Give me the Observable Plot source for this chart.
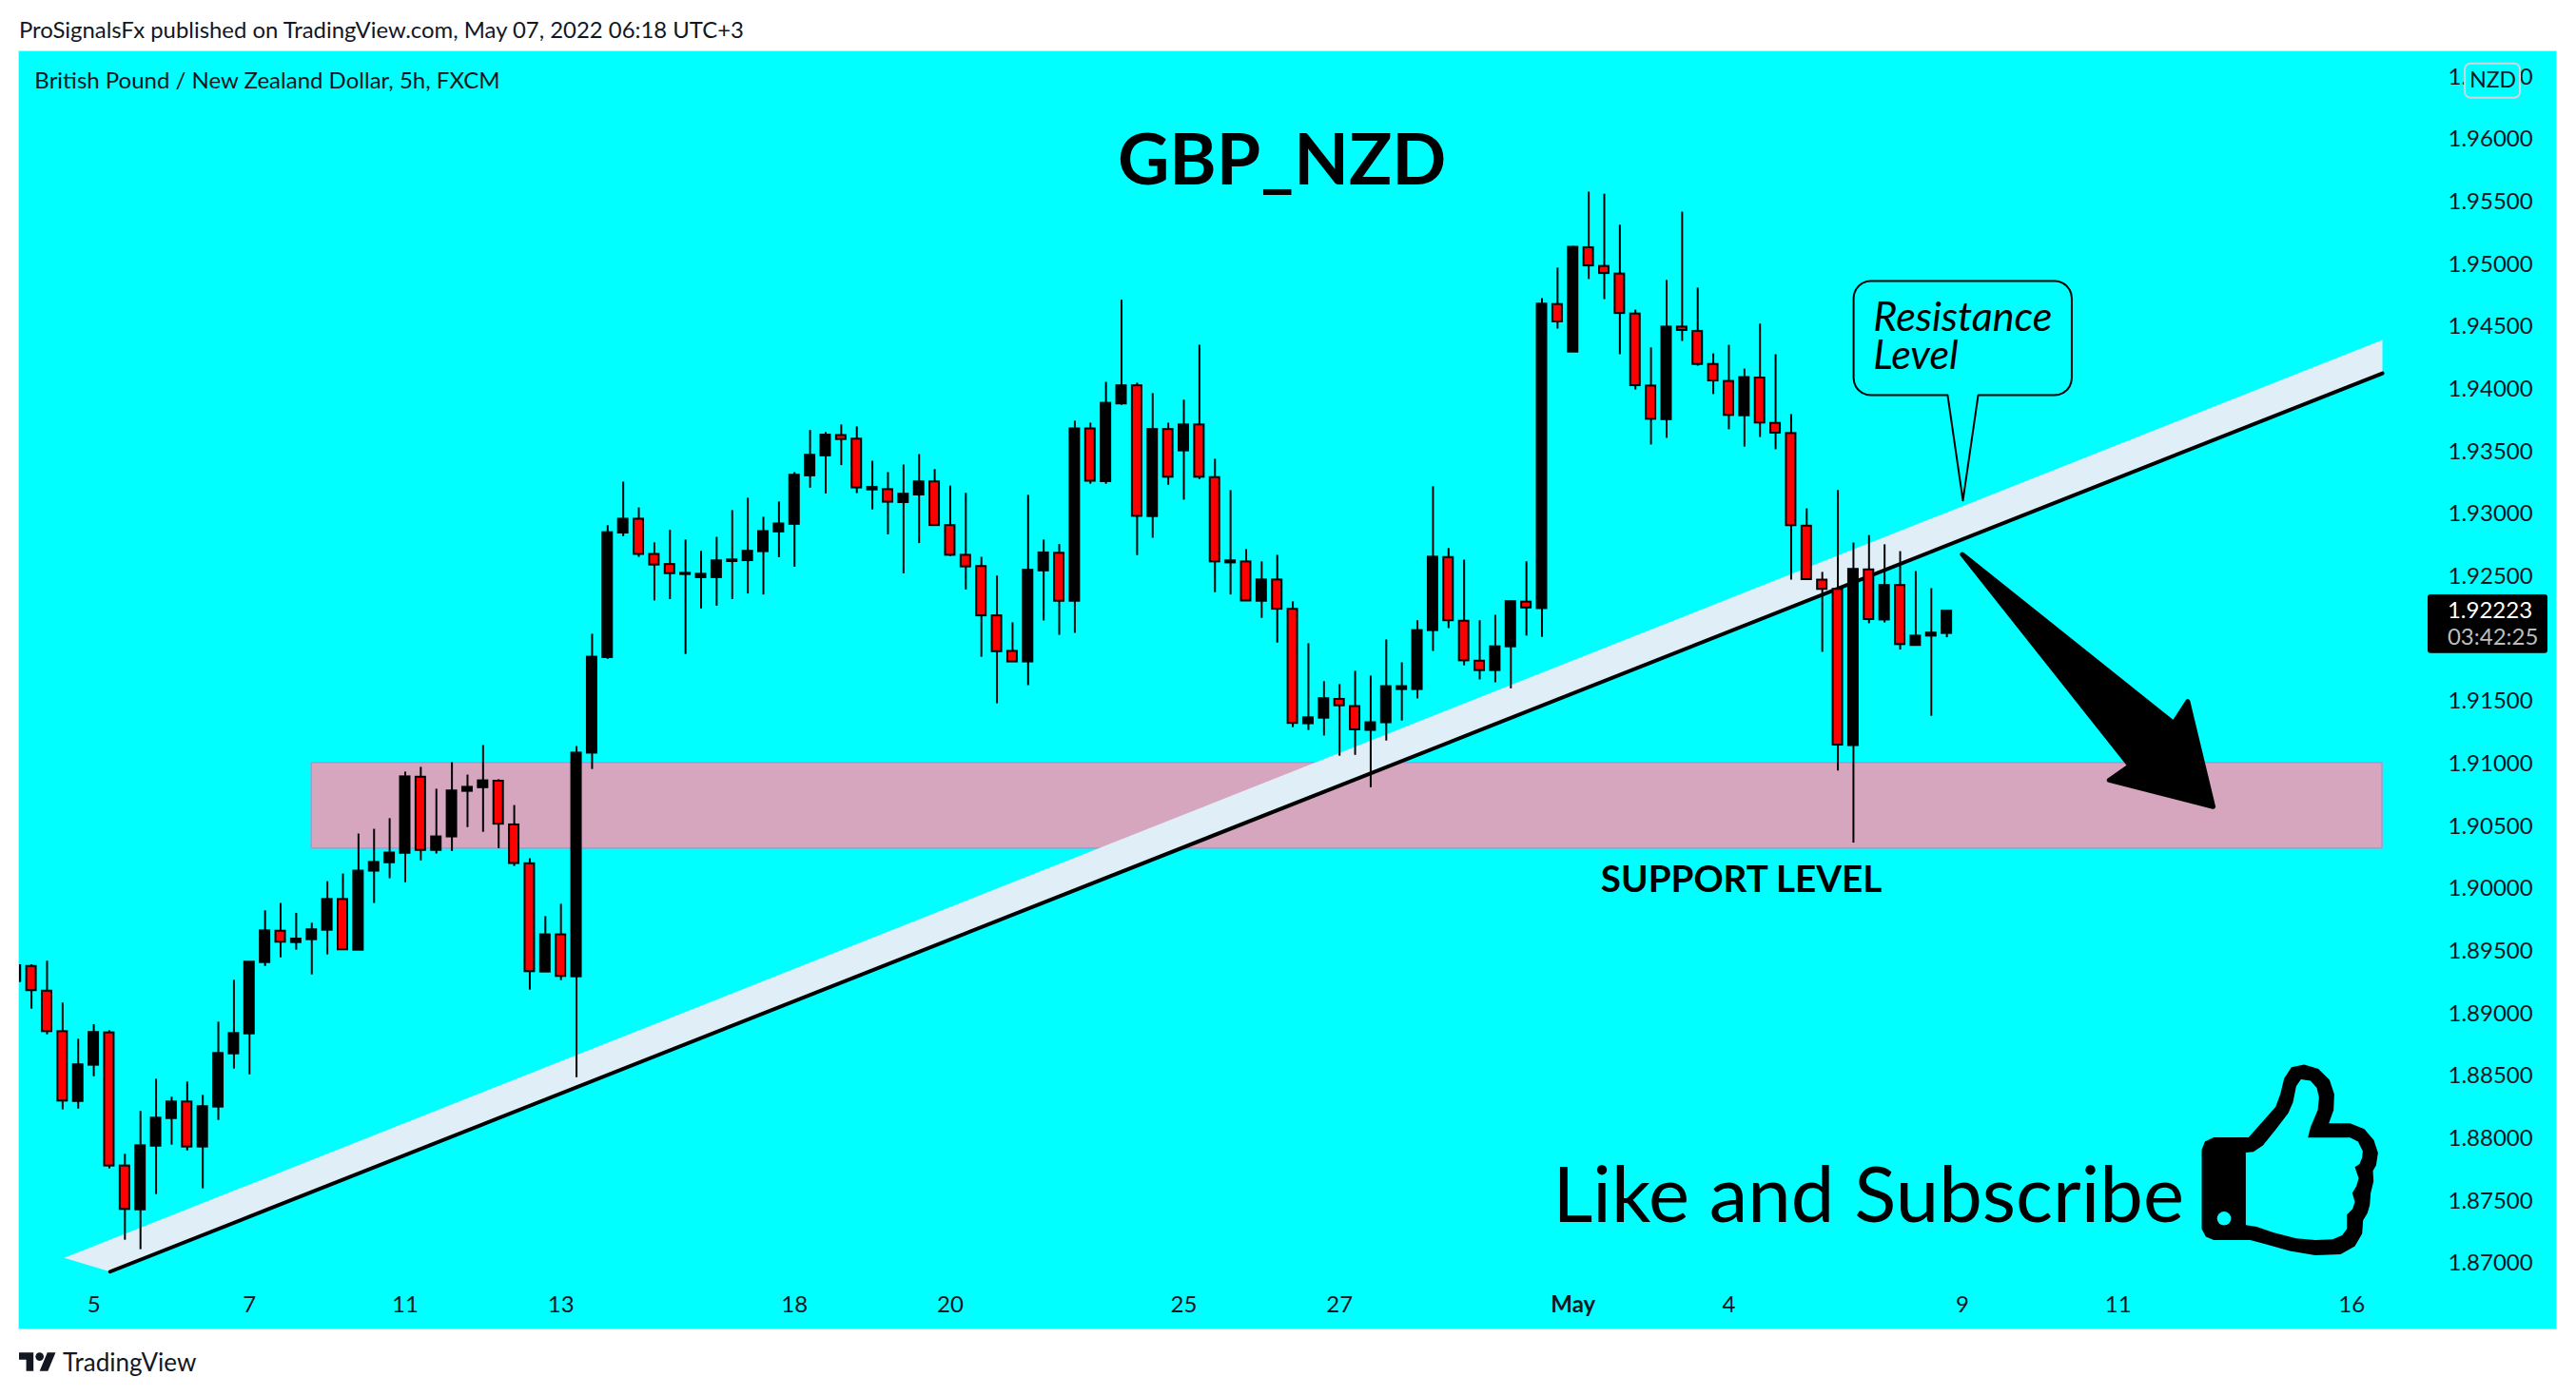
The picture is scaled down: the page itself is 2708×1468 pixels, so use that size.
<!DOCTYPE html>
<html><head><meta charset="utf-8">
<script src="https://cdn.jsdelivr.net/npm/d3@7"></script>
<script src="https://cdn.jsdelivr.net/npm/@observablehq/plot@0.6"></script>
<style>
html,body{margin:0;padding:0;background:#fff}
#page{position:relative;width:2708px;height:1468px;overflow:hidden;font-family:Lato,sans-serif;color:#131722}
.t{position:absolute;white-space:nowrap;line-height:1}
#panel{position:absolute;left:20px;top:54px;width:2667px;height:1343px;box-shadow:0 0 0 1px #e0e3eb}
#panel svg{display:block;overflow:visible}
</style></head><body>
<div id="page">
<div class="t" id="pub" style="left:20px;top:19px;font-size:23.9px">ProSignalsFx published on TradingView.com, May 07, 2022 06:18 UTC+3</div>
<div id="panel"></div>
<svg style="position:absolute;left:20px;top:1422px" width="39" height="20" viewBox="0 4 36 18"><path fill="#131722" d="M14 22H7V11H0V4h14v18zM28 22h-8l7.5-18h8L28 22z"/><circle fill="#131722" cx="20" cy="8" r="4"/></svg>
<div class="t" style="left:66px;top:1419px;font-size:26px">TradingView</div>
</div>
<script>
const opens=[1.89257,1.89378,1.89180,1.88856,1.88297,1.88587,1.88846,1.87780,1.87429,1.87939,1.88160,1.88293,1.87932,1.88252,1.88678,1.88838,1.89409,1.89660,1.89569,1.89592,1.89668,1.89914,1.89508,1.90141,1.90208,1.90284,1.90893,1.90307,1.90415,1.90780,1.90809,1.90861,1.90511,1.90200,1.89333,1.89631,1.89295,1.91086,1.91851,1.92848,1.92959,1.92677,1.92596,1.92516,1.92491,1.92491,1.92620,1.92627,1.92699,1.92857,1.92918,1.93306,1.93466,1.93629,1.93600,1.93193,1.93196,1.93092,1.93153,1.93258,1.92908,1.92670,1.92580,1.92185,1.91901,1.91816,1.92545,1.92686,1.92302,1.93682,1.93260,1.93882,1.94027,1.92980,1.93677,1.93506,1.93714,1.93292,1.92609,1.92617,1.92302,1.92472,1.92238,1.91321,1.91366,1.91516,1.91459,1.91268,1.91329,1.91595,1.91595,1.92067,1.92652,1.92142,1.91822,1.91747,1.91937,1.92295,1.92243,1.94678,1.94297,1.95133,1.94983,1.94922,1.94602,1.94025,1.93756,1.94497,1.94463,1.94198,1.94062,1.93787,1.94089,1.93726,1.93645,1.92903,1.92471,1.92397,1.91146,1.92553,1.92152,1.92428,1.91948,1.92023,1.92044];
const closes=[1.89384,1.89184,1.88856,1.88300,1.88590,1.88849,1.87780,1.87432,1.87942,1.88163,1.88293,1.87932,1.88255,1.88681,1.88841,1.89412,1.89663,1.89572,1.89597,1.89671,1.89914,1.89511,1.90141,1.90211,1.90286,1.90896,1.90307,1.90415,1.90783,1.90812,1.90864,1.90517,1.90202,1.89336,1.89631,1.89298,1.91086,1.91854,1.92851,1.92959,1.92677,1.92592,1.92523,1.92526,1.92518,1.92625,1.92633,1.92702,1.92860,1.92921,1.93311,1.93471,1.93632,1.93597,1.93209,1.93214,1.93095,1.93159,1.93258,1.92908,1.92670,1.92577,1.92185,1.91898,1.91816,1.92550,1.92689,1.92302,1.93682,1.93263,1.93887,1.94027,1.92982,1.93677,1.93295,1.93714,1.93295,1.92617,1.92625,1.92304,1.92472,1.92238,1.91324,1.91369,1.91522,1.91465,1.91272,1.91329,1.91618,1.91618,1.92067,1.92655,1.92146,1.91825,1.91747,1.91937,1.92299,1.92248,1.94681,1.94539,1.95136,1.94987,1.94926,1.94606,1.94028,1.93759,1.94497,1.94470,1.94198,1.94066,1.93790,1.94093,1.93729,1.93648,1.92907,1.92475,1.92397,1.91150,1.92557,1.92155,1.92428,1.91955,1.92023,1.92047,1.92223];
const highs=[1.89384,1.89391,1.89420,1.89085,1.88795,1.88912,1.88864,1.87874,1.88217,1.88475,1.88331,1.88453,1.88346,1.88932,1.89267,1.89412,1.89823,1.89882,1.89803,1.89724,1.90057,1.90118,1.90438,1.90476,1.90561,1.90934,1.90972,1.90797,1.91010,1.90910,1.91147,1.90873,1.90666,1.90240,1.89777,1.89876,1.91138,1.92038,1.92907,1.93256,1.93049,1.92770,1.92870,1.92792,1.92702,1.92814,1.93028,1.93127,1.92975,1.93097,1.93332,1.93669,1.93653,1.93714,1.93698,1.93423,1.93332,1.93393,1.93476,1.93356,1.93225,1.93166,1.92654,1.92504,1.92130,1.93150,1.92792,1.92756,1.93744,1.93728,1.94055,1.94713,1.94048,1.93965,1.93728,1.93912,1.94352,1.93439,1.93188,1.92716,1.92617,1.92670,1.92297,1.91962,1.91658,1.91635,1.91741,1.91703,1.91992,1.91809,1.92146,1.93219,1.92724,1.92631,1.92146,1.92190,1.92306,1.92618,1.94725,1.94970,1.95143,1.95578,1.95561,1.95313,1.94633,1.94331,1.94871,1.95418,1.94810,1.94283,1.94351,1.94161,1.94521,1.94276,1.93797,1.93042,1.92533,1.93189,1.92768,1.92828,1.92754,1.92699,1.92540,1.92403,1.92227];
const lows=[1.89257,1.89036,1.88830,1.88229,1.88236,1.88495,1.87757,1.87186,1.87110,1.87551,1.87947,1.87901,1.87597,1.88145,1.88556,1.88510,1.89378,1.89447,1.89508,1.89310,1.89470,1.89511,1.89508,1.89882,1.90080,1.90048,1.90223,1.90278,1.90299,1.90490,1.90452,1.90321,1.90179,1.89188,1.89333,1.89264,1.88488,1.90955,1.91837,1.92819,1.92653,1.92304,1.92315,1.91876,1.92240,1.92262,1.92315,1.92360,1.92352,1.92651,1.92574,1.93207,1.93161,1.93388,1.93164,1.93033,1.92833,1.92521,1.92764,1.92908,1.92660,1.92392,1.91853,1.91481,1.91816,1.91626,1.92144,1.92029,1.92045,1.93239,1.93239,1.93871,1.92667,1.92806,1.93230,1.93111,1.93276,1.92371,1.92352,1.92304,1.92165,1.91967,1.91290,1.91267,1.91223,1.91061,1.91068,1.90809,1.91183,1.91343,1.91520,1.91900,1.92083,1.91785,1.91672,1.91649,1.91601,1.92023,1.92013,1.94481,1.94297,1.94878,1.94717,1.94276,1.93994,1.93553,1.93606,1.94382,1.94184,1.93957,1.93675,1.93536,1.93613,1.93515,1.92471,1.92475,1.91893,1.90942,1.90366,1.92122,1.92128,1.91911,1.91944,1.91381,1.92010];

const xTicks=[5,15,25,35,50,60,75,85,110,125,135,150];
const xLabels=["5","7","11","13","18","20","25","27","4","9","11","16"];
const xMayTick=[100];
const yTicks=[1.87,1.875,1.88,1.885,1.89,1.895,1.9,1.905,1.91,1.915,1.925,1.93,1.935,1.94,1.945,1.95,1.955,1.96,1.965];

const lastPrice="1.92223", countdown="03:42:25";
const bandPts=[[3.10,1.87044],[151.97,1.94394],[151.97,1.94127],[6.05,1.86934]];
const linePts=[[6.05,1.86934],[151.97,1.94127]];
const arrowPts=[[124.99,1.92677],[138.56,1.91325],[139.47,1.91499],[141.10,1.90657],[134.42,1.90869],[135.75,1.90985]];
const thumbOuter=[[80,256],[190,256],[275,160],[290,120],[302,70],[325,35],[365,27],[410,40],[445,75],[460,120],[458,170],[443,212],[510,212],[555,230],[585,265],[598,305],[592,345],[582,362],[584,395],[575,432],[572,470],[565,495],[551,518],[548,560],[525,600],[480,625],[400,628],[320,615],[240,592],[195,580],[80,580],[55,570],[42,545],[42,295],[52,270]];
const thumbInner=[[181,304],[205,302],[235,282],[275,232],[315,180],[330,145],[340,95],[355,73],[385,78],[405,100],[412,130],[408,170],[385,225],[377,257],[510,257],[535,270],[550,300],[548,320],[540,340],[525,350],[537,385],[530,410],[517,432],[525,460],[518,482],[500,500],[500,545],[485,565],[455,578],[400,580],[340,575],[270,557],[215,538],[181,533]];

const FONT='Lato,sans-serif', CYAN="#00ffff";
const bars=opens.map((o,i)=>({i,open:o,close:closes[i],high:highs[i],low:lows[i]}));
const halfBody=0.305;
// thumb outline traced in its own small grid, placed in bar/price units
const thumbAt=([u,v])=>[139.51+u*0.02036,1.8866-v*2.538e-5];
const thumb0=thumbOuter.map(thumbAt), thumb1=thumbInner.map(thumbAt);
// callout outline with rounded corners, in bar/price units
function calloutPath(){
  const L=118.01,R=132.02,T=1.94866,B=1.93952,rx=1.1,ry=0.00137,pts=[];
  const arc=(cx,cy,s,e)=>{for(let k=0;k<=6;k++){const a=(s+(e-s)*k/6)*Math.PI/180;pts.push([cx+rx*Math.cos(a),cy+ry*Math.sin(a)]);}};
  arc(L+rx,T-ry,180,90);
  arc(R-rx,T-ry,90,0);
  arc(R-rx,B+ry,0,-90);
  pts.push([126.01,B],[125.03,1.93109],[124.05,B]);
  arc(L+rx,B+ry,-90,-180);
  pts.push(pts[0]);
  return pts;
}
const px=d=>d[0], py=d=>d[1];
const chart=Plot.plot({
  width:2667,height:1343,
  marginLeft:0,marginRight:127,marginTop:0,marginBottom:47,
  style:{background:CYAN,fontFamily:FONT,overflow:"visible"},
  x:{domain:[0.2303,155.39],axis:null},
  y:{domain:[1.86833,1.96701],axis:null},
  color:{type:"identity"},
  marks:[
    Plot.axisY({anchor:"right",ticks:yTicks,tickSize:0,tickPadding:13,tickFormat:d3.format(".5f"),label:null,fontSize:24,fill:"#131722"}),
    Plot.axisX({anchor:"bottom",ticks:xTicks,tickSize:0,tickPadding:12,tickFormat:d=>xLabels[xTicks.indexOf(d)],label:null,fontSize:24,fill:"#131722"}),
    Plot.axisX({anchor:"bottom",ticks:xMayTick,tickSize:0,tickPadding:12,tickFormat:()=>"May",label:null,fontSize:24,fontWeight:"bold",fill:"#131722"}),
    Plot.rect([{a:19,b:151.97,t:1.91007,d:1.90322}],{x1:"a",x2:"b",y1:"d",y2:"t",fill:"#d6a6bf",stroke:"#b890cc",strokeWidth:1.5}),
    Plot.line(bandPts,{x:px,y:py,fill:"#e0eef8",stroke:"none",curve:"linear-closed"}),
    Plot.line(linePts,{x:px,y:py,stroke:"#000",strokeWidth:4}),
    Plot.ruleX(bars,{x:"i",y1:"low",y2:"high",stroke:"#000",strokeWidth:2,clip:true}),
    Plot.rect(bars,{x1:d=>d.i-halfBody,x2:d=>d.i+halfBody,y1:"open",y2:"close",fill:d=>d.close>=d.open?"#000":"#f00",stroke:"#000",strokeWidth:2,clip:true}),
    Plot.line(calloutPath(),{x:px,y:py,stroke:"#000",strokeWidth:2}),
    Plot.text(["Resistance\nLevel"],{x:119.28,y:1.94413,text:d=>d,textAnchor:"start",lineHeight:0.93,fontSize:43,fontStyle:"italic",fill:"#000"}),
    Plot.line(arrowPts,{x:px,y:py,fill:"#000",stroke:"#000",strokeWidth:5,strokeLinejoin:"round",curve:"linear-closed"}),
    Plot.text(["GBP_NZD"],{x:81.3,y:1.95825,text:d=>d,fontSize:75,fontWeight:"bold",fill:"#000"}),
    Plot.text(["SUPPORT LEVEL"],{x:110.8,y:1.90070,text:d=>d,fontSize:38.6,fontWeight:"bold",fill:"#000"}),
    Plot.text(["Like and Subscribe"],{x:98.7,y:1.87530,text:d=>d,textAnchor:"start",fontSize:81.5,fill:"#000"}),
    Plot.line(thumb0,{x:px,y:py,fill:"#000",stroke:"none",curve:"linear-closed"}),
    Plot.line(thumb1,{x:px,y:py,fill:CYAN,stroke:"none",curve:"linear-closed"}),
    Plot.dot([[141.8,1.8736]],{x:px,y:py,r:7.3,fill:CYAN,stroke:"none"}),
    Plot.rect([{a:154.9,b:162.6,t:1.92353,d:1.91884}],{x1:"a",x2:"b",y1:"d",y2:"t",fill:"#000",rx:3}),
    Plot.text([lastPrice],{x:156.15,y:+lastPrice,text:d=>d,textAnchor:"start",fontSize:24,fill:"#fff"}),
    Plot.text([countdown],{x:156.15,y:1.92011,text:d=>d,textAnchor:"start",fontSize:24,fill:"#bdbdbd"}),
    Plot.rect([{a:157.29,b:160.83,t:1.96604,d:1.9633}],{x1:"a",x2:"b",y1:"d",y2:"t",fill:CYAN,stroke:"#d1d4dc",strokeWidth:2,rx:6}),
    Plot.text(["NZD"],{x:159.06,y:1.96469,text:d=>d,fontSize:23,fill:"#131722"}),
    Plot.text(["British Pound / New Zealand Dollar, 5h, FXCM"],{x:1.2,y:1.96465,text:d=>d,textAnchor:"start",fontSize:24,fill:"#131722"})
  ]
});
document.getElementById("panel").appendChild(chart);
</script>
</body></html>
